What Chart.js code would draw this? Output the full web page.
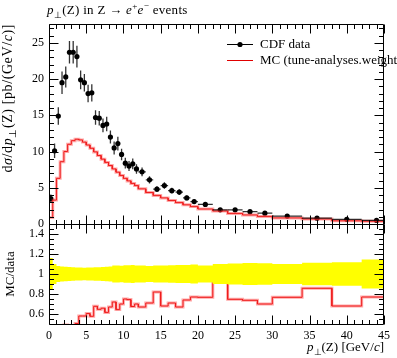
<!DOCTYPE html>
<html>
<head>
<meta charset="utf-8">
<script src="https://cdn.jsdelivr.net/npm/chart.js@4.4.1/dist/chart.umd.min.js"></script>
<style>
  html, body { margin: 0; padding: 0; background: #fff; overflow: hidden; }
  #wrap { position: relative; width: 397px; height: 358px; overflow: hidden; font-family: "Liberation Serif", serif; color: #000; }
  #plot { position: absolute; left: 0; top: 0; }
  .lbl { position: absolute; white-space: nowrap; font-size: 13px; line-height: 13px; }
  .lbl sub, .lbl sup { font-size: 70%; line-height: 0; }
  .rot { transform-origin: top left; transform: rotate(-90deg) translateX(-100%); }
  .rotc { transform-origin: top left; transform: rotate(-90deg) translateX(-50%); }
</style>
</head>
<body>
<div id="wrap">
  <canvas id="plot" width="397" height="358"></canvas>
  <div class="lbl" style="left:47px; top:3px; letter-spacing:0.3px;"><i>p</i><sub>⊥</sub>(Z) in Z → <i>e</i><sup>+</sup><i>e</i><sup>−</sup> events</div>
  <div class="lbl" style="left:260px; top:37px;">CDF data</div>
  <div class="lbl" style="left:260px; top:53px;">MC (tune-analyses.weights)</div>
  <div class="lbl rot" style="left:1px; top:24px; font-size:14px; line-height:14px; letter-spacing:0.6px;">d<i>σ</i>/d<i>p</i><sub>⊥</sub>(Z) [pb/(GeV/<i>c</i>)]</div>
  <div class="lbl rotc" style="left:3px; top:274px;">MC/data</div>
  <div class="lbl" style="right:13px; top:340px;"><i>p</i><sub>⊥</sub>(Z) [GeV/<i>c</i>]</div>
</div>
<script>
// bin edges in pT (GeV/c)
const binEdges = [0, 0.5, 1, 1.5, 2, 2.5, 3, 3.5, 4, 4.5, 5, 5.5, 6, 6.5, 7, 7.5, 8, 8.5, 9, 9.5, 10, 10.5, 11, 11.5,
                  12, 13, 14, 15, 16, 17, 18, 19, 20, 22, 24, 26, 28, 30, 34, 38, 42, 46];

// CDF data, one value per bin
const dataY = [3.5, 10.1, 14.9, 19.5, 20.3, 23.7, 23.7, 23.1, 19.9, 19.5, 18.0, 18.1, 14.7, 14.6, 13.6, 13.8,
               12.0, 10.5, 11.1, 9.6, 8.4, 8.0, 8.3, 7.6, 7.2, 6.1, 4.8, 5.3, 4.6, 4.4, 3.6, 3.1,
               2.7, 1.95, 1.95, 1.7, 1.5, 1.1, 0.8, 0.65, 0.5];
const dataErr = [0.56, 1.0, 1.2, 1.55, 1.45, 1.55, 1.55, 1.5, 1.3, 1.2, 1.2, 1.2, 1.0, 1.0, 0.95, 1.0,
                 0.9, 0.9, 0.95, 0.8, 0.75, 0.7, 0.75, 0.65, 0.6, 0.5, 0.4, 0.45, 0.4, 0.4, 0.32, 0.3,
                 0.23, 0.2, 0.21, 0.19, 0.16, 0.11, 0.09, 0.075, 0.07];

// MC prediction
const mcY = [0.9, 3.3, 6.3, 8.6, 10.0, 11.0, 11.5, 11.7, 11.6, 11.3, 10.9, 10.45, 9.95, 9.45, 8.95, 8.5,
             8.07, 7.6, 7.15, 6.7, 6.3, 5.95, 5.6, 5.3, 4.85, 4.35, 3.95, 3.6, 3.25, 2.95, 2.65, 2.4,
             2.07, 1.79, 1.46, 1.25, 1.05, 0.84, 0.69, 0.44, 0.385];

// ratio panel
const ratioY = [0.26, 0.33, 0.42, 0.44, 0.49, 0.46, 0.485, 0.505, 0.58, 0.58, 0.605, 0.577, 0.677, 0.647, 0.658, 0.616,
                0.67, 0.72, 0.644, 0.70, 0.75, 0.744, 0.675, 0.70, 0.67, 0.71, 0.82, 0.68, 0.71, 0.67, 0.74, 0.77,
                0.767, 0.917, 0.747, 0.737, 0.70, 0.767, 0.857, 0.68, 0.77];
const bandHalf = [0.16, 0.10, 0.08, 0.075, 0.072, 0.07, 0.068, 0.066, 0.065, 0.062, 0.065, 0.066, 0.068, 0.068, 0.07, 0.072,
                  0.075, 0.085, 0.085, 0.082, 0.088, 0.088, 0.09, 0.085, 0.085, 0.08, 0.085, 0.085, 0.087, 0.09, 0.09, 0.095,
                  0.085, 0.1, 0.105, 0.11, 0.107, 0.1, 0.113, 0.117, 0.145];

const xTicks = [0, 5, 10, 15, 20, 25, 30, 35, 40, 45];
const yTicks = [0, 5, 10, 15, 20, 25];
const ratioTicks = [0.6, 0.8, 1, 1.2, 1.4];

const tickFont = { family: 'Liberation Serif', size: 12 };

// histogram as step points
function steps(vals) {
  const pts = [];
  vals.forEach((v, i) => {
    pts.push({ x: binEdges[i], y: v });
    pts.push({ x: binEdges[i + 1], y: v });
  });
  return pts;
}

const dataPts = dataY.map((v, i) => ({ x: (binEdges[i] + binEdges[i + 1]) / 2, y: v }));
const bandUp = steps(bandHalf.map(h => 1 + h));
const bandDn = steps(bandHalf.map(h => 1 - h));

const snap = v => Math.round(v) + 0.5;

const decorations = {
  id: 'decorations',
  afterDatasetsDraw(chart) {
    const { ctx, scales: { x, y } } = chart;
    ctx.save();
    ctx.strokeStyle = 'rgba(0,0,0,0.8)';
    ctx.lineWidth = 1.3;
    dataPts.forEach((p, i) => {
      const px = x.getPixelForValue(p.x), py = y.getPixelForValue(p.y);
      ctx.beginPath();
      ctx.moveTo(px, y.getPixelForValue(p.y - dataErr[i]));
      ctx.lineTo(px, y.getPixelForValue(p.y + dataErr[i]));
      ctx.moveTo(x.getPixelForValue(binEdges[i]), py);
      ctx.lineTo(x.getPixelForValue(Math.min(binEdges[i + 1], 45)), py);
      ctx.stroke();
    });
    ctx.restore();
  },
  afterDraw(chart) {
    const { ctx, chartArea: a, scales: { x, y, yr } } = chart;
    const L = snap(a.left), R = snap(a.right) - 1;
    const panels = [[snap(y.top), snap(y.bottom)], [snap(yr.top), snap(yr.bottom)]];
    ctx.save();
    ctx.strokeStyle = '#000';
    ctx.lineWidth = 1;
    ctx.beginPath();
    panels.forEach(([t, b]) => {
      ctx.rect(L, t, R - L, b - t);
      for (let v = 0; v <= 45; v++) {
        const px = snap(x.getPixelForValue(v));
        const len = v % 5 === 0 ? 9 : 4.5;
        ctx.moveTo(px, t); ctx.lineTo(px, t + len);
        ctx.moveTo(px, b); ctx.lineTo(px, b - len);
      }
    });
    for (let v = 0; v <= 27; v++) {
      const py = snap(y.getPixelForValue(v));
      const len = v % 5 === 0 ? 9 : 4.5;
      ctx.moveTo(L, py); ctx.lineTo(L + len, py);
      ctx.moveTo(R, py); ctx.lineTo(R - len, py);
    }
    for (let k = 11; k <= 29; k++) {
      const py = snap(yr.getPixelForValue(k * 0.05));
      const len = k % 4 === 0 ? 9 : 4.5;
      ctx.moveTo(L, py); ctx.lineTo(L + len, py);
      ctx.moveTo(R, py); ctx.lineTo(R - len, py);
    }
    ctx.stroke();

    // legend samples
    ctx.beginPath();
    ctx.moveTo(227, 44.5); ctx.lineTo(253, 44.5);
    ctx.stroke();
    ctx.fillStyle = '#000';
    ctx.beginPath();
    ctx.arc(240, 44.5, 2.6, 0, Math.PI * 2);
    ctx.fill();
    ctx.strokeStyle = '#e00000';
    ctx.beginPath();
    ctx.moveTo(227, 60.5); ctx.lineTo(253, 60.5);
    ctx.stroke();
    ctx.restore();
  }
};

const lineStyle = { pointRadius: 0, tension: 0, fill: false };

new Chart(document.getElementById('plot'), {
  type: 'line',
  data: {
    datasets: [
      { ...lineStyle, data: bandUp, yAxisID: 'yr', borderWidth: 0, fill: '+1', backgroundColor: '#ffff00', clip: 0 },
      { ...lineStyle, data: bandDn, yAxisID: 'yr', borderWidth: 0, clip: 0 },
      { ...lineStyle, data: [{ x: 0, y: 1 }, { x: 45, y: 1 }], yAxisID: 'yr', borderColor: '#8a8a10', borderWidth: 1, clip: 0 },
      { ...lineStyle, data: steps(ratioY), yAxisID: 'yr', borderColor: 'rgba(255,60,60,0.45)', borderWidth: 3, clip: 0 },
      { ...lineStyle, data: steps(ratioY), yAxisID: 'yr', borderColor: '#e00000', borderWidth: 1, clip: 0 },
      { ...lineStyle, data: steps(mcY), yAxisID: 'y', borderColor: 'rgba(255,60,60,0.45)', borderWidth: 3 },
      { ...lineStyle, data: steps(mcY), yAxisID: 'y', borderColor: '#e00000', borderWidth: 1 },
      { data: dataPts, yAxisID: 'y', showLine: false, pointRadius: 2.6, pointBorderWidth: 0,
        pointBackgroundColor: '#000', pointBorderColor: '#000' }
    ]
  },
  options: {
    responsive: false,
    animation: false,
    events: [],
    layout: { padding: { left: 0, top: 24, right: 13, bottom: 0 } },
    plugins: { legend: { display: false }, tooltip: { enabled: false } },
    scales: {
      x: {
        type: 'linear', min: 0, max: 45,
        grid: { display: false, drawTicks: false }, border: { display: false },
        afterBuildTicks: s => { s.ticks = xTicks.map(v => ({ value: v })); },
        afterFit: s => { s.height = 34; },
        ticks: { color: '#000', font: tickFont, padding: 5, maxRotation: 0, autoSkip: false }
      },
      yr: {
        type: 'linear', position: 'left', stack: 'panels', stackWeight: 1, min: 0.5, max: 1.5,
        grid: { display: false, drawTicks: false }, border: { display: false },
        afterBuildTicks: s => { s.ticks = ratioTicks.map(v => ({ value: v })); },
        afterFit: s => { s.width = 49; },
        ticks: { color: '#000', font: tickFont, padding: 5, autoSkip: false, callback: v => String(v) }
      },
      y: {
        type: 'linear', position: 'left', stack: 'panels', stackWeight: 2, min: 0, max: 27.6,
        grid: { display: false, drawTicks: false }, border: { display: false },
        afterBuildTicks: s => { s.ticks = yTicks.map(v => ({ value: v })); },
        afterFit: s => { s.width = 49; },
        ticks: { color: '#000', font: tickFont, padding: 5, autoSkip: false }
      }
    }
  },
  plugins: [decorations]
});
</script>
</body>
</html>
